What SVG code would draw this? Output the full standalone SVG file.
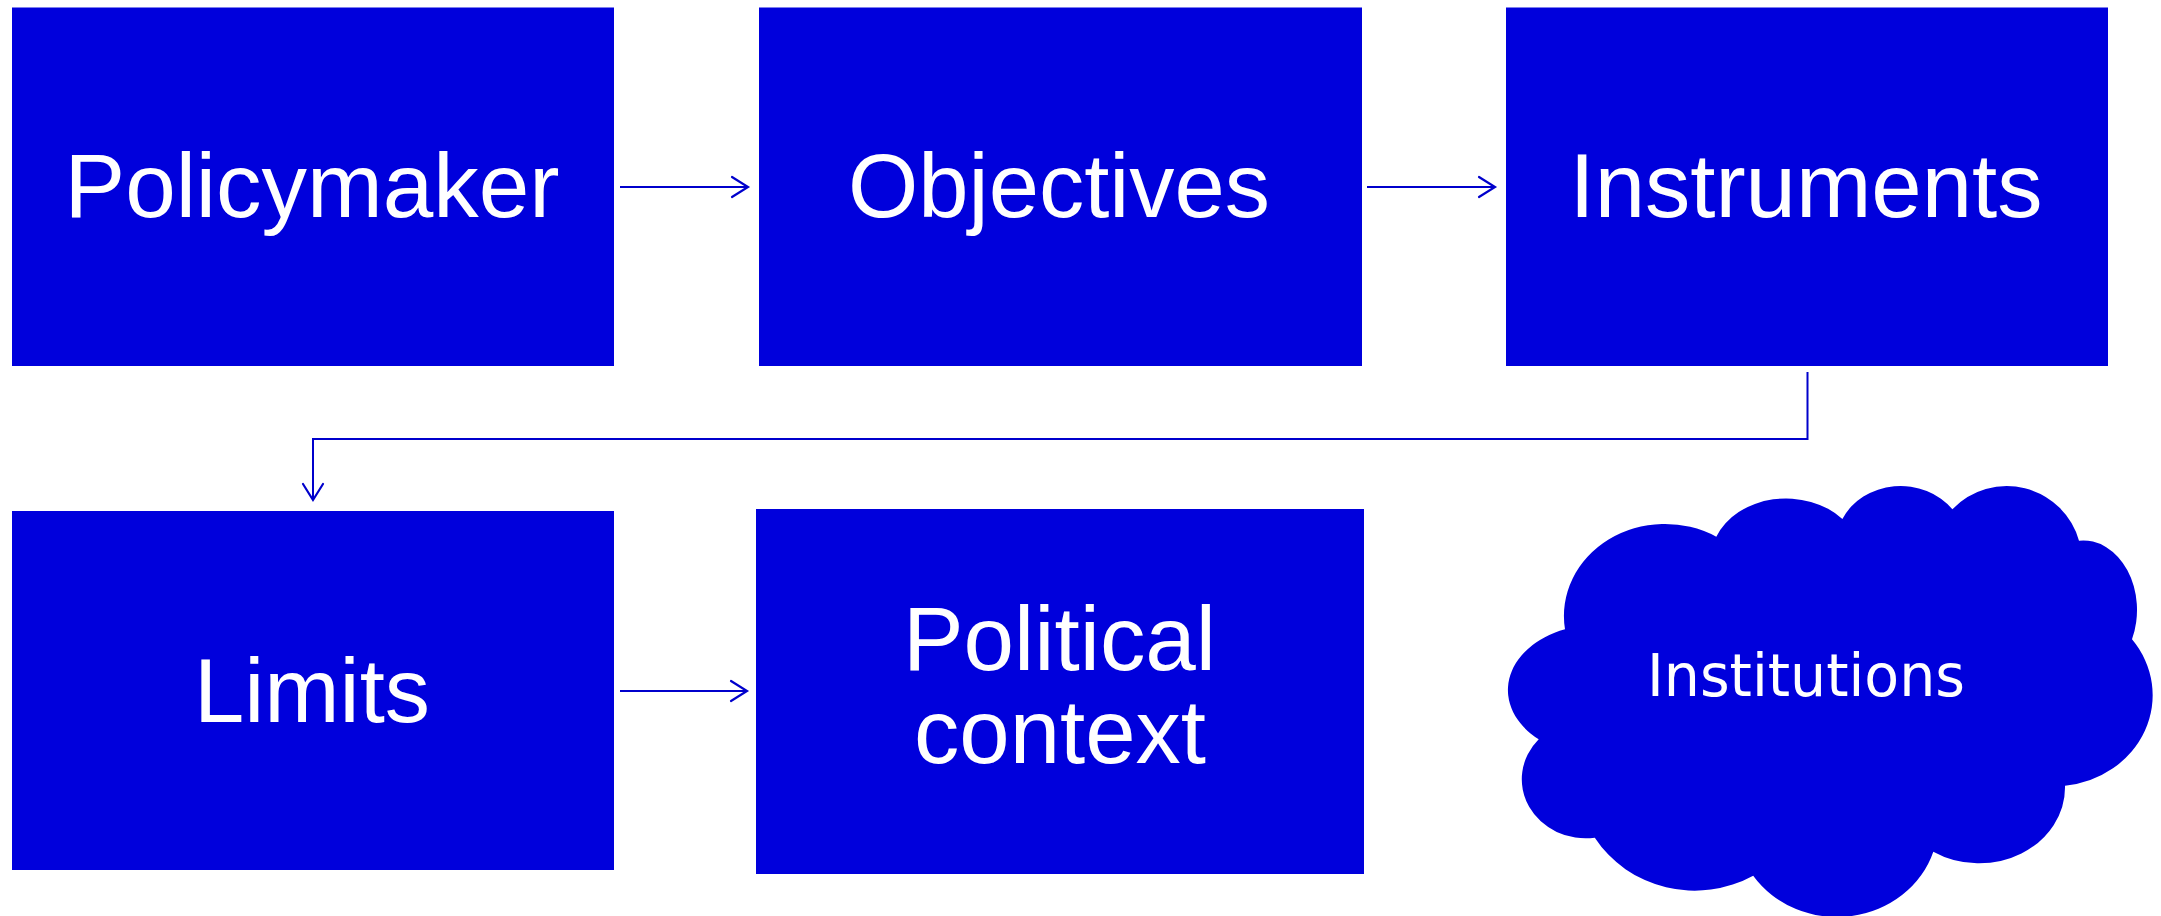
<svg xmlns="http://www.w3.org/2000/svg" width="2161" height="916" viewBox="0 0 2161 916">
  <style>
    .node { fill: #0000DC; }
    .lbl { font-family: "Liberation Sans", Arial, sans-serif; font-size: 91px; fill: #FFFFFF; text-anchor: middle; }
    .cl { font-family: "DejaVu Sans", Verdana, sans-serif; font-size: 58.5px; fill: #FFFFFF; text-anchor: middle; }
    .conn { fill: none; stroke: #0000CC; stroke-width: 2; }
  </style>
  <defs>
    <marker id="open" markerUnits="userSpaceOnUse" markerWidth="22" markerHeight="26" refX="18" refY="12" orient="auto">
      <path d="M2,2 L18,12 L2,22" fill="none" stroke="#0000CC" stroke-width="2.2" stroke-linecap="round" stroke-linejoin="miter"/>
    </marker>
  </defs>
  <rect width="2161" height="916" fill="#FFFFFF"/>

  <g id="connectors">
    <path class="conn" d="M620,187 H748" marker-end="url(#open)"/>
    <path class="conn" d="M1367,187 H1495" marker-end="url(#open)"/>
    <path class="conn" d="M1807.5,372 V439 H313 V500" marker-end="url(#open)"/>
    <path class="conn" d="M620,691 H747" marker-end="url(#open)"/>
  </g>

  <g id="policymaker">
    <rect class="node" x="12" y="7.5" width="602" height="358.5"/>
    <text class="lbl" x="312" y="216.7" textLength="495" lengthAdjust="spacingAndGlyphs">Policymaker</text>
  </g>
  <g id="objectives">
    <rect class="node" x="759" y="7.5" width="603" height="358.5"/>
    <text class="lbl" x="1059" y="216.7" textLength="422" lengthAdjust="spacingAndGlyphs">Objectives</text>
  </g>
  <g id="instruments">
    <rect class="node" x="1506" y="7.5" width="602" height="358.5"/>
    <text class="lbl" x="1806" y="216.7" textLength="473" lengthAdjust="spacingAndGlyphs">Instruments</text>
  </g>
  <g id="limits">
    <rect class="node" x="12" y="511" width="602" height="359"/>
    <text class="lbl" x="312" y="721.7" textLength="236" lengthAdjust="spacingAndGlyphs">Limits</text>
  </g>
  <g id="political-context">
    <rect class="node" x="756" y="509" width="608" height="365"/>
    <text class="lbl" x="1059.5" y="669.7" textLength="313" lengthAdjust="spacingAndGlyphs">Political</text>
    <text class="lbl" x="1060" y="762.7" textLength="292" lengthAdjust="spacingAndGlyphs">context</text>
  </g>
  <g id="institutions">
    <path class="node" d="M1538.7,739.3 A88.6,65 0 0 1 1565,629.3 A101,92 0 0 1 1716.3,536.7 A75,60.4 0 0 1 1842.4,519 A64,56.3 0 0 1 1952.4,509.3 A75,74.6 0 0 1 2079,540.7 A53.7,69.5 0 0 1 2132,639.3 A98,91 0 0 1 2065,785.7 A86,76 0 0 1 1933.3,851.7 A101,93.5 0 0 1 1753.2,875.7 A118,113.6 0 0 1 1594.8,837.7 A63.8,59 0 0 1 1538.7,739.3 Z"/>
    <text class="cl" x="1806" y="696" textLength="318" lengthAdjust="spacingAndGlyphs">Institutions</text>
  </g>
</svg>
